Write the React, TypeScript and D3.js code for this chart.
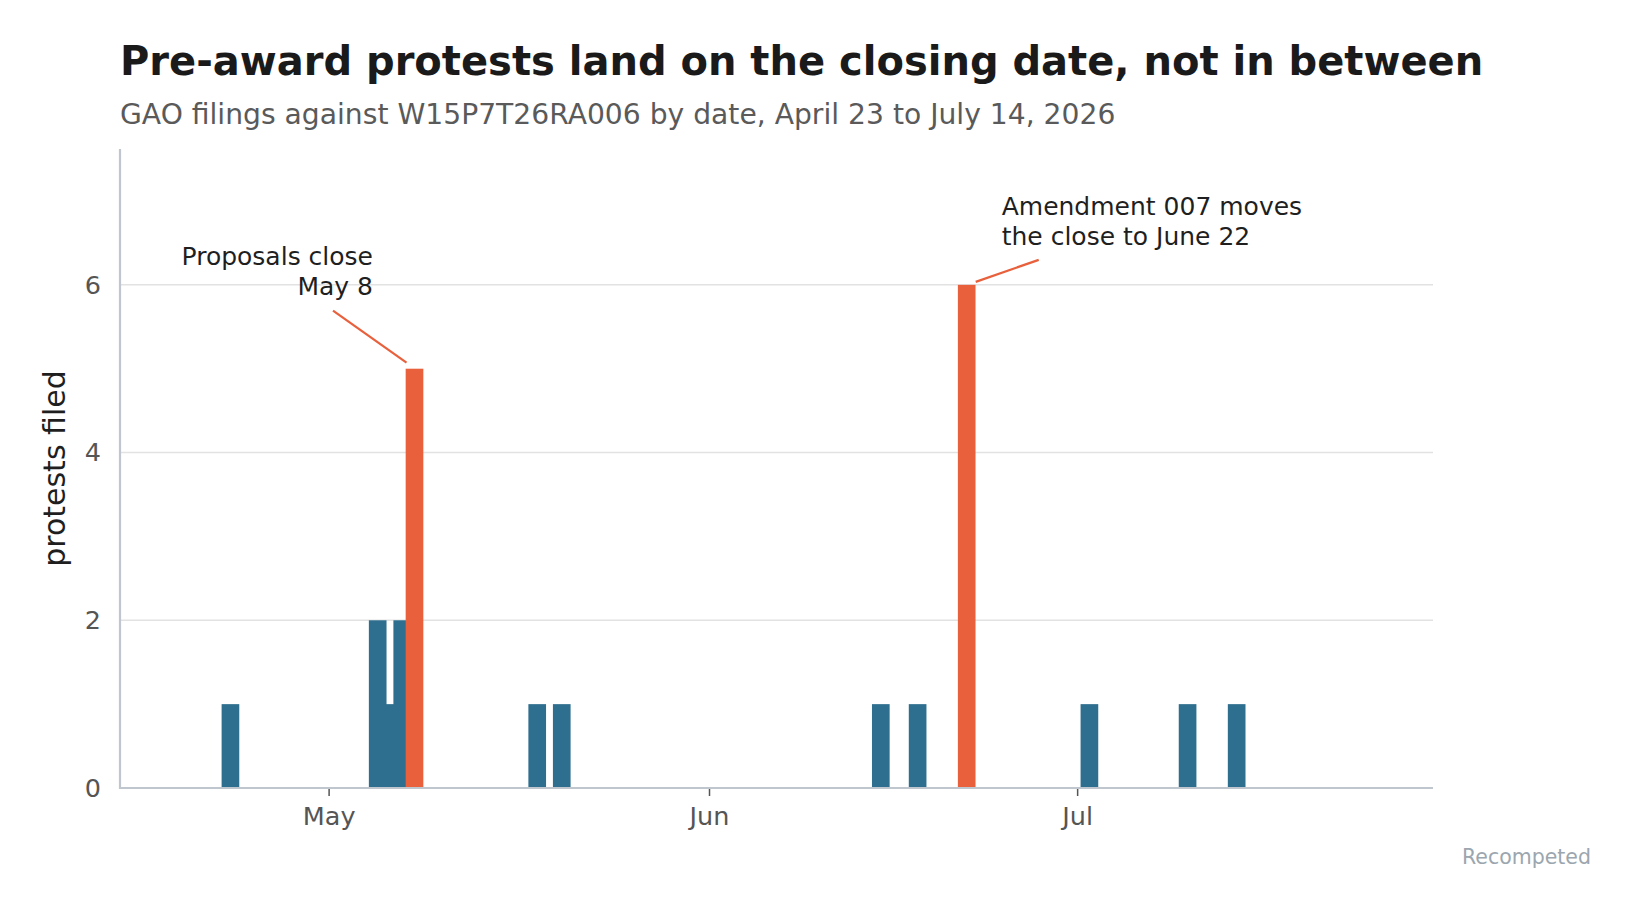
import { useEffect, useRef } from "react";
import * as d3 from "d3";

const W = 1636;
const H = 914;

// filings per day (UTC dates)
const filingDates = [
  "2026-04-23", "2026-05-05", "2026-05-06", "2026-05-07", "2026-05-08",
  "2026-05-18", "2026-05-20", "2026-06-15", "2026-06-18", "2026-06-22",
  "2026-07-02", "2026-07-10", "2026-07-14",
];
const filingCounts = [1, 2, 1, 2, 5, 1, 1, 1, 1, 6, 1, 1, 1];
const closingDates = ["2026-05-08", "2026-06-22"];
const yTicks = [0, 2, 4, 6];

const BLUE = "#2e6f8f";
const ORANGE = "#e8603c";

const parse = (s: string) => {
  const [y, m, d] = s.split("-").map(Number);
  return new Date(Date.UTC(y, m - 1, d));
};

export default function App() {
  const svgRef = useRef<SVGSVGElement>(null);

  useEffect(() => {
    if (!svgRef.current) return;
    document.body.style.margin = "0";

    const margin = { top: 149, right: 203, bottom: 126, left: 120 };
    const width = W - margin.left - margin.right;
    const height = H - margin.top - margin.bottom;

    const root = d3.select(svgRef.current);
    root.selectAll("*").remove();

    const font = "DejaVu Sans, sans-serif";

    // Title + subtitle
    root.append("text")
      .attr("x", 120).attr("y", 75)
      .attr("font-family", font).attr("font-weight", "bold")
      .attr("font-size", "40px").attr("fill", "#1a1a1a")
      .text("Pre-award protests land on the closing date, not in between");

    root.append("text")
      .attr("x", 120).attr("y", 124)
      .attr("font-family", font).attr("font-size", "28.2px").attr("fill", "#5a5a5a")
      .text("GAO filings against W15P7T26RA006 by date, April 23 to July 14, 2026");

    const svg = root.append("g")
      .attr("transform", `translate(${margin.left},${margin.top})`);

    const x = d3.scaleUtc()
      .domain([parse("2026-04-14"), parse("2026-07-30")])
      .range([0, width]);
    const y = d3.scaleLinear().domain([0, 7.62]).range([height, 0]);

    const dayPx = x(parse("2026-05-02")) - x(parse("2026-05-01"));
    const barW = dayPx * 1.44;

    // Grid
    svg.append("g")
      .selectAll("line")
      .data(yTicks.filter((t) => t > 0))
      .enter()
      .append("line")
      .attr("x1", 0).attr("x2", width)
      .attr("y1", (d) => y(d)).attr("y2", (d) => y(d))
      .attr("stroke", "#e2e2e2").attr("stroke-width", 1.5);

    // Bars
    const rows = filingDates.map((d, i) => ({ date: parse(d), key: d, n: filingCounts[i] }));
    svg.append("g")
      .selectAll("rect")
      .data(rows)
      .enter()
      .append("rect")
      .attr("x", (d) => x(d.date) - barW / 2)
      .attr("y", (d) => y(d.n))
      .attr("width", barW)
      .attr("height", (d) => y(0) - y(d.n))
      .attr("fill", (d) => (closingDates.includes(d.key) ? ORANGE : BLUE));

    // Y axis ticks
    svg.append("g")
      .call(d3.axisLeft(y).tickValues(yTicks).tickSize(0).tickPadding(19).tickFormat(d3.format("d")))
      .call((g) => g.select(".domain").remove())
      .call((g) => g.selectAll(".tick text")
        .attr("fill", "#555").attr("font-size", "25.5px").attr("font-family", font));

    // X axis
    svg.append("g")
      .attr("transform", `translate(0,${height})`)
      .call(d3.axisBottom(x).ticks(d3.utcMonth.every(1)).tickSize(8).tickPadding(11)
        .tickFormat((d) => d3.utcFormat("%b")(d as Date)))
      .call((g) => g.select(".domain").remove())
      .call((g) => g.selectAll(".tick line").attr("stroke", "#555").attr("stroke-width", 1.5))
      .call((g) => g.selectAll(".tick text")
        .attr("fill", "#555").attr("font-size", "25.5px").attr("font-family", font));

    // Spines
    svg.append("line")
      .attr("x1", 0).attr("x2", 0).attr("y1", 0).attr("y2", height + 1)
      .attr("stroke", "#bfc6ce").attr("stroke-width", 2.2);
    svg.append("line")
      .attr("x1", -1).attr("x2", width).attr("y1", height).attr("y2", height)
      .attr("stroke", "#bfc6ce").attr("stroke-width", 2.2);

    // Annotations
    const annFont = "25px";
    const c1x = x(parse(closingDates[0]));
    const c1y = y(5);
    svg.append("line")
      .attr("x1", c1x - 81.5).attr("y1", c1y - 58)
      .attr("x2", c1x - 8).attr("y2", c1y - 6)
      .attr("stroke", ORANGE).attr("stroke-width", 2.2);
    const t1 = svg.append("text")
      .attr("font-family", font).attr("font-size", annFont).attr("fill", "#1f1f1f")
      .attr("text-anchor", "end");
    t1.append("tspan").attr("x", c1x - 41.5).attr("y", c1y - 104).text("Proposals close");
    t1.append("tspan").attr("x", c1x - 41.5).attr("y", c1y - 74).text("May 8");

    const c2x = x(parse(closingDates[1]));
    const c2y = y(6);
    svg.append("line")
      .attr("x1", c2x + 72).attr("y1", c2y - 25)
      .attr("x2", c2x + 9).attr("y2", c2y - 3)
      .attr("stroke", ORANGE).attr("stroke-width", 2.2);
    const t2 = svg.append("text")
      .attr("font-family", font).attr("font-size", annFont).attr("fill", "#1f1f1f");
    t2.append("tspan").attr("x", c2x + 35).attr("y", c2y - 70).text("Amendment 007 moves");
    t2.append("tspan").attr("x", c2x + 35).attr("y", c2y - 40).text("the close to June 22");

    // Y label
    root.append("text")
      .attr("transform", `translate(65,${margin.top + height / 2}) rotate(-90)`)
      .attr("text-anchor", "middle")
      .attr("font-family", font).attr("font-size", "30px").attr("fill", "#1f1f1f")
      .text("protests filed");

    // Footer
    root.append("text")
      .attr("x", 1591).attr("y", 864)
      .attr("text-anchor", "end")
      .attr("font-family", font).attr("font-size", "20.5px").attr("fill", "#9ba6af")
      .text("Recompeted");
  }, []);

  return (
    <svg
      ref={svgRef}
      width={W}
      height={H}
      style={{ position: "absolute", left: 0, top: 0, background: "#fff" }}
    />
  );
}
